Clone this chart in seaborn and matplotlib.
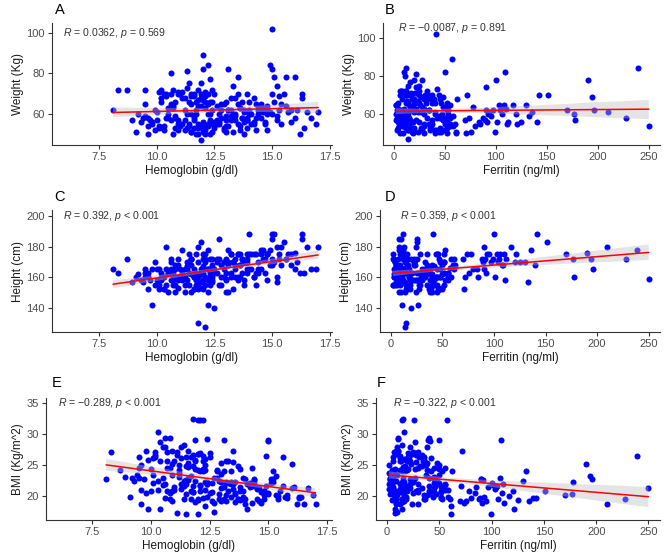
import pandas as pd
import matplotlib
matplotlib.use("Agg")
import matplotlib.pyplot as plt
import seaborn as sns

# one value per subject
hb = [15.2, 14.6, 15.8, 16.3, 15.5, 14.8, 15.0, 13.4, 16.0, 15.3,
      14.4, 16.5, 13.9, 14.9, 13.0, 12.0, 15.1, 14.2, 14.5, 13.1,
      15.6, 14.0, 12.8, 15.0, 13.6, 12.4, 14.7, 15.4, 13.3, 14.1,
      13.8, 12.9, 12.3, 11.5, 13.4, 12.6, 11.8, 13.5, 14.3, 13.0,
      14.8, 12.2, 11.0, 13.7, 15.2, 14.0, 12.7, 14.4, 13.2, 16.1,
      13.9, 15.7, 12.5,
      8.1, 8.3, 8.7, 8.9, 9.1, 9.3, 9.4, 9.2,
      9.5, 9.5, 9.6, 9.6, 9.8, 9.7, 9.9, 9.5, 9.8, 9.9, 9.6, 10.0,
      10.1, 10.2, 10.3, 10.2, 10.4, 10.3, 10.5, 10.4, 10.6, 10.6, 10.7,
      10.7, 10.8, 10.8, 10.9, 10.9, 10.5, 10.1, 10.6, 10.7, 10.8, 10.9,
      10.2, 10.4, 10.3, 10.5, 10.6, 10.8, 10.9, 10.0, 10.7, 10.9, 10.1,
      11.0, 11.1, 11.1, 11.2, 11.2, 11.3, 11.3, 11.4, 11.4, 11.4,
      11.5, 11.5, 11.5, 11.6, 11.6, 11.6, 11.7, 11.7, 11.7, 11.8,
      11.8, 11.8, 11.9, 11.9, 11.9, 11.9, 12.0, 12.0, 12.0, 12.0,
      12.1, 12.1, 12.1, 12.1, 12.2, 12.2, 12.2, 12.2, 12.3, 12.3,
      12.3, 12.4, 12.4, 12.4, 12.5, 12.5, 11.0, 11.2, 11.3, 11.5,
      11.7, 11.9, 12.1, 12.3, 11.1, 11.4, 11.6, 11.8, 12.0, 12.2,
      12.4, 11.3, 11.5, 11.9, 12.1, 12.3, 11.2, 11.6, 11.8, 12.0,
      12.7, 12.6, 12.8, 12.8, 12.9, 13.0, 13.0, 13.1, 13.1, 13.2,
      13.2, 13.3, 13.3, 13.4, 13.5, 13.5, 13.6, 13.6, 13.7, 13.7,
      13.8, 13.8, 13.9, 13.9, 12.6, 12.9, 13.0, 13.2, 13.4, 13.6,
      13.8, 12.7, 13.1, 13.5, 13.9,
      14.0, 14.1, 14.2, 14.2, 14.3, 14.4, 14.5, 14.5, 14.6, 14.7,
      14.8, 14.9, 15.0, 15.0, 15.1, 15.2, 15.3, 15.4, 14.3, 14.8,
      15.6, 15.8, 16.0, 16.2, 16.3, 16.4, 16.7, 16.9, 17.0]

ferritin = [133, 136, 140, 142, 151, 170, 177, 178, 190, 194,
            196, 210, 228, 239, 250, 99, 100, 101, 103, 104,
            105, 106, 108, 109, 110, 111, 112, 117, 120, 121,
            125, 130, 61, 61, 62, 70, 71, 72, 74, 76,
            78, 80, 85, 88, 90, 90, 91, 92, 95, 97,
            89, 93, 84,
            3, 8, 12, 5, 18, 25, 10, 40,
            6, 15, 30, 9, 11, 22, 35, 45, 4, 14, 50, 20,
            12, 7, 16, 33, 8, 48, 3, 27, 11, 52, 19,
            6, 40, 14, 23, 9, 55, 37, 2, 30, 45, 16,
            21, 13, 58, 10, 38, 5, 50, 15, 25, 42, 4,
            12, 8, 30, 18, 45, 5, 22, 14, 52, 9,
            35, 17, 3, 27, 11, 48, 20, 7, 40, 15,
            13, 33, 14, 25, 6, 50, 57, 10, 19, 36,
            14, 4, 29, 46, 26, 12, 8, 53, 16, 38,
            2, 22, 44, 11, 20, 31, 55, 2, 42, 24,
            9, 39, 17, 48, 21, 60, 3, 28, 5, 34,
            14, 12, 47, 18, 52, 7, 37, 15, 45, 24,
            10, 30, 5, 42, 18, 25, 8, 50, 14, 35,
            4, 22, 46, 12, 28, 55, 16, 40, 7, 32,
            19, 52, 11, 44, 48, 3, 38, 20, 58, 9,
            27, 15, 53, 2, 36,
            12, 30, 6, 45, 18, 50, 9, 33, 22, 52,
            14, 40, 41, 25, 4, 48, 16, 35, 55, 28,
            20, 10, 45, 30, 8, 52, 15, 38, 24]

weight = [59, 61, 56, 70, 70, 62, 60, 57, 78, 69,
          62, 61, 58, 84, 54, 51, 78, 56, 65, 62,
          64, 60, 65, 82, 63, 55, 56, 65, 60, 55,
          56, 65, 50, 51, 68, 57, 50, 70, 58, 51,
          64, 54, 55, 58, 74, 62, 56, 60, 59, 62,
          57, 61, 56,
          62, 72, 72, 57, 51, 56, 58, 60,
          72, 65, 54, 50, 55, 57, 62, 59, 56, 52, 58, 61,
          71, 72, 70, 68, 58, 52, 60, 69, 80, 57, 64,
          50, 66, 53, 71, 70, 58, 54, 65, 63, 59, 57,
          66, 70, 54, 63, 70, 58, 55, 57, 72, 52, 53,
          70, 55, 68, 62, 52, 60, 81, 75, 66, 54,
          69, 70, 65, 53, 70, 69, 66, 62, 50, 55,
          67, 72, 47, 75, 70, 64, 89, 82, 56, 52,
          52, 63, 69, 66, 65, 84, 55, 60, 77, 66,
          60, 62, 51, 72, 53, 70, 54, 57, 73, 51,
          60, 68, 71, 57, 71, 55, 58, 64, 54, 70,
          66, 53, 60, 68, 50, 56, 68, 57, 53, 67,
          60, 55, 62, 58, 53, 66, 59, 82, 54, 62,
          57, 74, 51, 60, 78, 55, 63, 52, 58, 66,
          50, 62, 57, 70, 64, 52, 57, 68, 59, 54,
          61, 55, 62, 65, 53,
          66, 60, 55, 68, 52, 64, 62, 58, 63, 55,
          60, 61, 102, 70, 66, 57, 62, 55, 65, 52,
          78, 62, 58, 50, 68, 53, 58, 55, 61]

height = [157, 178, 168, 188, 183, 175, 172, 160, 176, 172,
          165, 180, 172, 178, 159, 172, 188, 160, 175, 170,
          172, 175, 168, 168, 175, 158, 172, 180, 170, 175,
          170, 170, 165, 172, 168, 172, 152, 160, 175, 163,
          175, 165, 160, 172, 180, 165, 172, 163, 175, 170,
          170, 175, 165,
          165, 163, 172, 157, 160, 158, 157, 162,
          165, 163, 160, 163, 142, 158, 155, 160, 165, 170, 152, 158,
          165, 163, 152, 160, 180, 152, 162, 155, 165, 170, 158,
          155, 150, 165, 168, 160, 163, 152, 172, 160, 155, 172,
          158, 165, 160, 150, 158, 168, 153, 165, 163, 158, 155,
          165, 178, 158, 160, 150, 165, 170, 163, 175, 155,
          162, 168, 172, 152, 160, 165, 158, 163, 155, 130,
          180, 170, 157, 183, 165, 162, 166, 175, 152, 163,
          127, 170, 160, 175, 142, 178, 150, 158, 172, 165,
          155, 168, 160, 157, 140, 163, 160, 155, 167, 150,
          175, 153, 172, 160, 163, 168, 160, 155, 167, 165,
          172, 158, 172, 162, 155, 163, 165, 152, 160, 158,
          185, 163, 160, 155, 165, 172, 158, 168, 150, 175,
          160, 170, 152, 165, 175, 158, 168, 160, 172, 163,
          155, 170, 165, 175, 170, 160, 150, 163, 172, 168,
          158, 155, 178, 175, 163,
          188, 165, 160, 175, 155, 170, 178, 165, 172, 163,
          175, 168, 188, 185, 170, 160, 175, 168, 163, 158,
          172, 175, 165, 163, 185, 163, 165, 165, 180]

bmi = [24.0, 19.3, 19.8, 19.8, 20.9, 20.2, 20.3, 22.3, 25.2, 23.3,
       22.8, 18.8, 19.6, 26.5, 21.4, 17.2, 22.1, 21.9, 21.2, 21.5,
       21.6, 19.6, 23.0, 29.0, 20.6, 22.0, 18.9, 20.1, 20.8, 18.0,
       19.4, 22.5, 18.4, 17.2, 24.1, 19.3, 21.6, 27.3, 18.9, 19.2,
       20.9, 19.8, 21.5, 19.6, 22.8, 22.8, 18.9, 22.6, 19.3, 21.5,
       19.7, 19.9, 20.6,
       22.8, 27.1, 24.3, 23.1, 19.9, 22.4, 23.5, 22.9,
       26.4, 24.5, 21.1, 18.8, 27.3, 22.8, 25.8, 23.0, 20.6, 18.0, 25.1, 24.4,
       26.1, 27.1, 30.3, 26.6, 17.9, 22.5, 22.9, 28.7, 29.4, 19.7, 25.6,
       20.8, 29.3, 19.5, 25.2, 27.3, 21.8, 23.4, 22.0, 24.6, 24.6, 19.3,
       26.4, 25.7, 21.1, 28.0, 28.0, 20.5, 23.5, 20.9, 27.1, 20.8, 22.1,
       25.7, 17.4, 27.2, 24.2, 23.1, 22.0, 28.0, 28.2, 21.6, 22.5,
       26.3, 24.8, 22.0, 22.9, 27.3, 25.3, 26.4, 23.3, 20.8, 32.5,
       20.7, 24.9, 19.1, 22.4, 25.7, 24.4, 32.3, 26.8, 24.2, 19.6,
       32.2, 21.8, 27.0, 21.6, 32.2, 26.5, 24.4, 24.0, 26.0, 24.2,
       25.0, 22.0, 19.9, 29.2, 27.0, 26.3, 21.1, 23.7, 26.2, 22.7,
       19.6, 29.0, 24.0, 22.3, 26.7, 19.5, 22.7, 26.6, 19.4, 25.7,
       22.3, 21.2, 20.3, 25.9, 20.8, 21.1, 25.0, 24.7, 20.7, 26.8,
       17.5, 20.7, 24.2, 24.1, 19.5, 22.3, 23.6, 29.1, 24.0, 20.2,
       22.3, 25.6, 22.1, 22.0, 25.5, 22.0, 22.3, 20.3, 19.6, 24.8,
       20.8, 21.5, 20.9, 22.9, 22.1, 20.3, 25.3, 25.6, 19.9, 19.1,
       24.4, 22.9, 19.6, 21.2, 19.9,
       18.7, 22.0, 21.5, 22.2, 21.6, 22.1, 19.6, 21.3, 21.3, 20.7,
       19.6, 21.6, 28.9, 20.5, 22.8, 22.3, 20.2, 19.5, 24.5, 20.8,
       26.4, 20.2, 21.3, 18.8, 19.9, 19.9, 21.3, 20.2, 18.8]

stat_labels = [r"$R$ = 0.0362, $p$ = 0.569",
               r"$R$ = −0.0087, $p$ = 0.891",
               r"$R$ = 0.392, $p$ < 0.001",
               r"$R$ = 0.359, $p$ < 0.001",
               r"$R$ = −0.289, $p$ < 0.001",
               r"$R$ = −0.322, $p$ < 0.001"]

df = pd.DataFrame({"hb": hb, "ferritin": ferritin, "weight": weight,
                   "height": height, "bmi": bmi})

sns.set_style("ticks")
plt.rcParams['font.family'] = ['Liberation Sans', 'DejaVu Sans']
plt.rcParams['mathtext.fontset'] = 'custom'
plt.rcParams['mathtext.rm'] = 'Liberation Sans'
plt.rcParams['mathtext.it'] = 'Liberation Sans:italic'

W, H = 669, 555
fig = plt.figure(figsize=(W / 100, H / 100), dpi=100)


def rect(l, r, t, b):
    return [l / W, 1 - b / H, (r - l) / W, (b - t) / H]


hb_ticks = [7.5, 10.0, 12.5, 15.0, 17.5]
fer_ticks = [0, 50, 100, 150, 200, 250]

# letter, x, y, box (l, r, t, b px), xlim, ylim, yticks, ylabel, letter pos, stat pos
panels = [
    ("A", "hb", "weight", (52, 332, 23, 145), (5.45, 17.6), (44.5, 105), [60, 80, 100], "Weight (Kg)", (55, 10), (0.04, 0.915)),
    ("B", "ferritin", "weight", (383, 660, 23, 145), (-10.5, 261), (44, 107.6), [60, 80, 100], "Weight (Kg)", (385, 10), (0.055, 0.955)),
    ("C", "hb", "height", (52, 332, 210, 332), (5.45, 17.6), (124, 204), [140, 160, 180, 200], "Height (cm)", (54, 197), (0.04, 0.95)),
    ("D", "ferritin", "height", (380, 660, 210, 332), (-10.5, 261), (124, 204), [140, 160, 180, 200], "Height (cm)", (385, 197), (0.07, 0.95)),
    ("E", "hb", "bmi", (46, 332, 398, 520), (5.55, 17.7), (16.2, 35.8), [20, 25, 30, 35], "BMI (Kg/m^2)", (52, 383), (0.042, 0.955)),
    ("F", "ferritin", "bmi", (376, 660, 398, 520), (-10.5, 261), (16.2, 35.8), [20, 25, 30, 35], "BMI (Kg/m^2)", (377, 383), (0.06, 0.955)),
]

for i, (letter, xcol, ycol, box, xlim, ylim, yticks, ylab, lpos, spos) in enumerate(panels):
    ax = fig.add_axes(rect(*box))
    sns.scatterplot(data=df, x=xcol, y=ycol, ax=ax, color="#0000FF", s=19,
                    linewidth=0, legend=False, zorder=1)
    sns.regplot(data=df, x=xcol, y=ycol, ax=ax, scatter=False, color="red",
                line_kws=dict(lw=1.1), seed=3, n_boot=600)
    band = ax.collections[-1]
    band.set_facecolor("#BDBDBD")
    band.set_edgecolor("none")
    band.set_alpha(0.4)

    ax.set_xlim(*xlim)
    ax.set_ylim(*ylim)
    if xcol == "hb":
        ax.set_xticks(hb_ticks)
        ax.set_xticklabels([f"{t:.1f}" for t in hb_ticks])
        ax.set_xlabel("Hemoglobin (g/dl)", fontsize=8.5, color="#1A1A1A", labelpad=2)
    else:
        ax.set_xticks(fer_ticks)
        ax.set_xlabel("Ferritin (ng/ml)", fontsize=8.5, color="#1A1A1A", labelpad=2)
    ax.set_yticks(yticks)
    ax.set_ylabel(ylab, fontsize=8.5, color="#1A1A1A", labelpad=2)

    sns.despine(ax=ax)
    for s in ["left", "bottom"]:
        ax.spines[s].set_color("#333333")
        ax.spines[s].set_linewidth(0.8)
    ax.tick_params(direction="out", length=3, width=0.8, color="#333333",
                   labelcolor="#4D4D4D", labelsize=8, pad=2)

    ax.text(spos[0], spos[1], stat_labels[i], transform=ax.transAxes,
            fontsize=7.6, color="#333333", ha="left", va="center")
    fig.text(lpos[0] / W, 1 - lpos[1] / H, letter, fontsize=10.5,
             color="black", ha="left", va="center")

fig.savefig("out.png", dpi=100)
